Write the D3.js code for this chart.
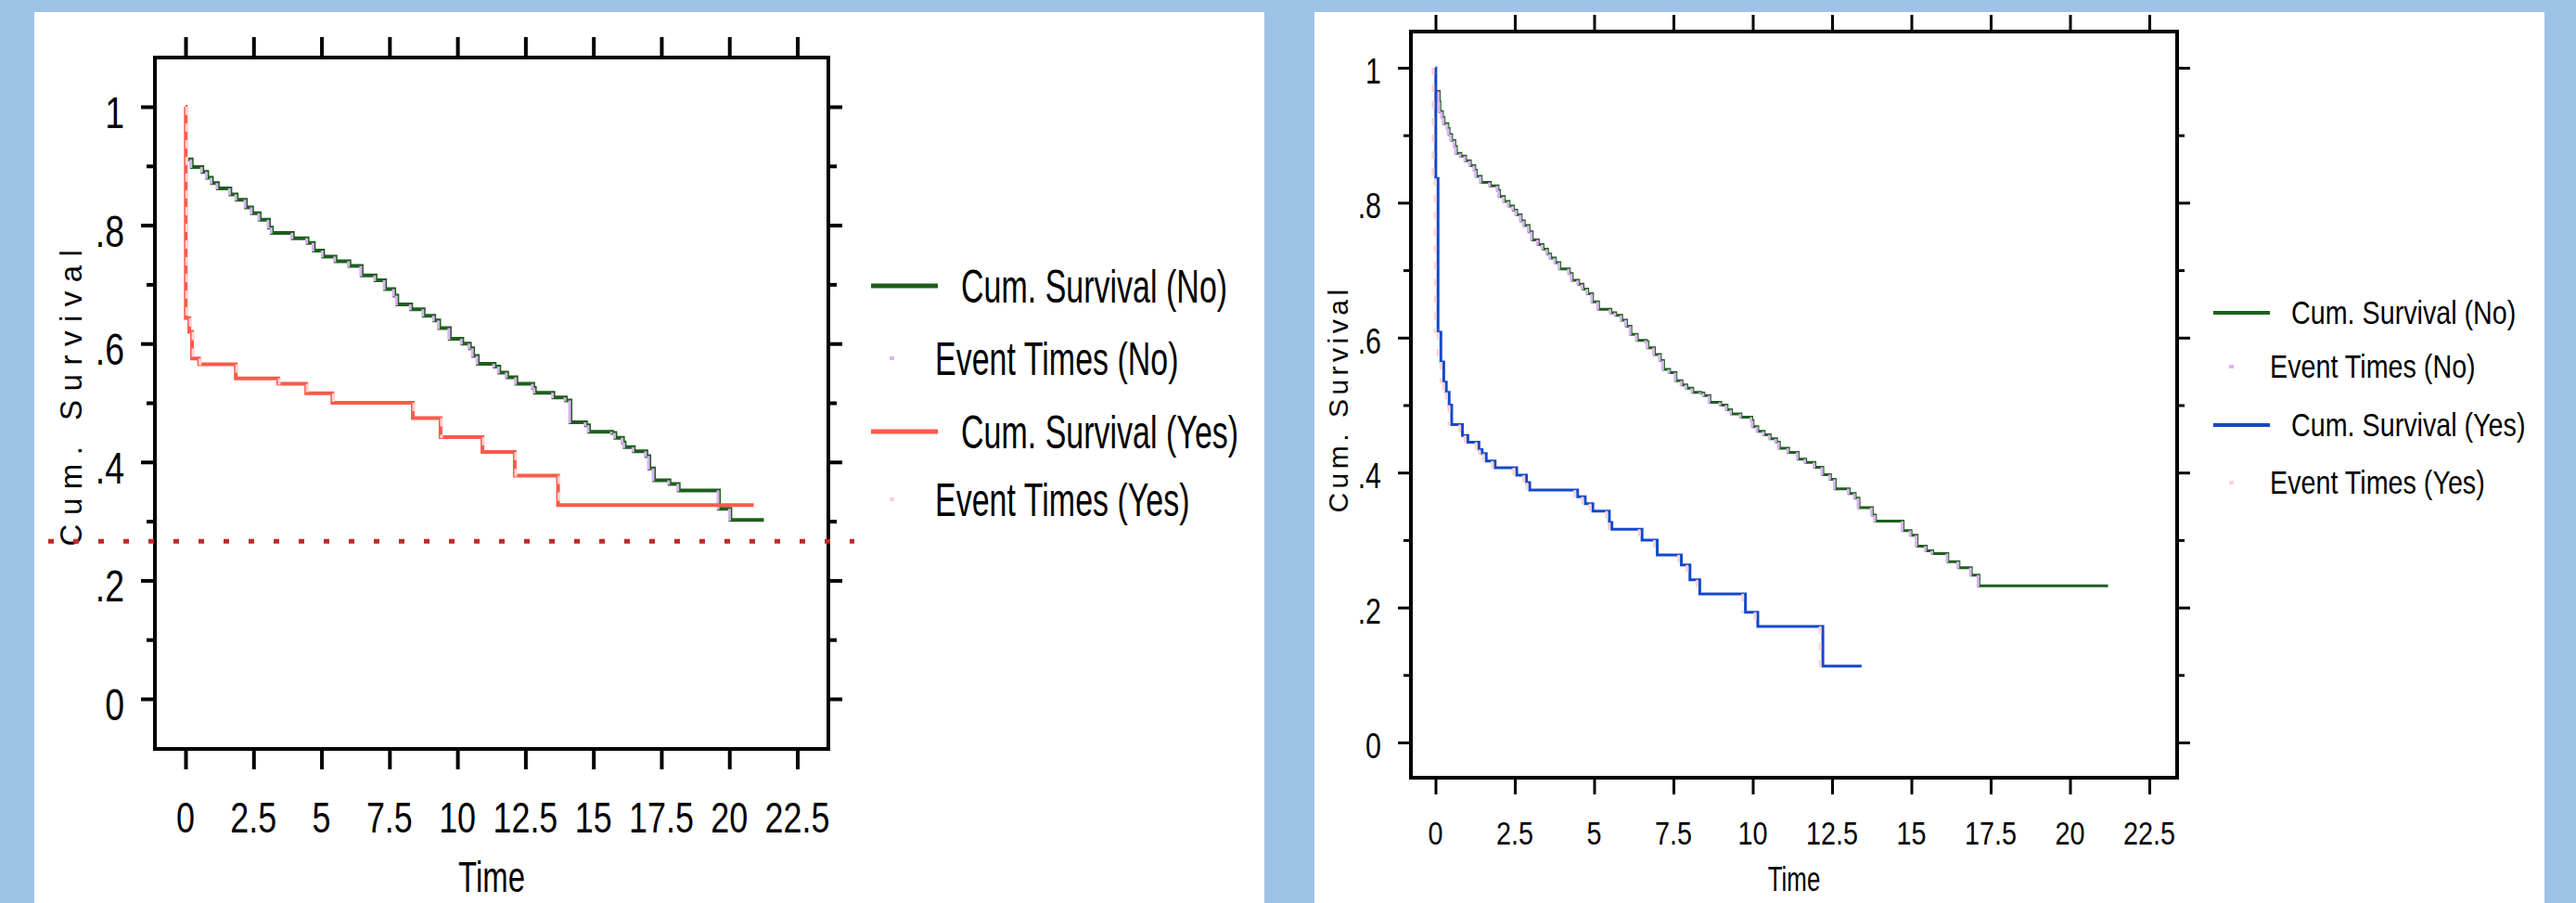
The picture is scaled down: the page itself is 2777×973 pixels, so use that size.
<!DOCTYPE html>
<meta charset="utf-8">
<html>
<head>
  <meta charset="utf-8">
  <title>Cum. Survival</title>
</head>
<style>
  body { margin: 0; background: #9dc3e6; }
  svg text { font-family: "Liberation Sans", Arial, sans-serif; fill: #000; }
</style>
<body>
<svg width="2777" height="973"></svg>
<script src="https://d3js.org/d3.v7.min.js"></script>
<script>

// ---- data ----
var xTicks = [0, 2.5, 5, 7.5, 10, 12.5, 15, 17.5, 20, 22.5];
var yMajor = [0, 0.2, 0.4, 0.6, 0.8, 1];
var yMinor = [0.1, 0.3, 0.5, 0.7, 0.9];
var legendLabels = ["Cum. Survival (No)", "Event Times (No)", "Cum. Survival (Yes)", "Event Times (Yes)"];

// left chart
var leftNoTime = [0.1, 0.23, 0.62, 0.8, 0.97, 1.19, 1.65, 1.88, 2.22, 2.45, 2.73, 3.07, 3.18, 3.95, 4.49, 4.72, 5.06, 5.52, 6.03, 6.48, 6.99, 7.34, 7.68, 7.79, 8.3, 8.76, 9.15, 9.33, 9.72, 10.18, 10.46, 10.58, 10.75, 11.37, 11.54, 11.83, 12.17, 12.79, 12.85, 13.53, 13.99, 14.16, 14.73, 14.84, 15.69, 15.81, 16.09, 16.15, 16.49, 16.95, 17.06, 17.23, 17.8, 18.14, 19.62, 20.04, 21.27];
var leftNoSurv = [0.911, 0.898, 0.89, 0.88, 0.871, 0.862, 0.852, 0.843, 0.83, 0.82, 0.809, 0.796, 0.787, 0.778, 0.77, 0.757, 0.747, 0.739, 0.731, 0.715, 0.707, 0.692, 0.681, 0.666, 0.658, 0.647, 0.639, 0.626, 0.608, 0.6, 0.592, 0.579, 0.566, 0.561, 0.551, 0.543, 0.532, 0.525, 0.517, 0.509, 0.504, 0.467, 0.462, 0.451, 0.449, 0.441, 0.433, 0.425, 0.418, 0.41, 0.389, 0.369, 0.363, 0.352, 0.321, 0.302, 0.302];
var leftYesTime = [0, 0.01, 0.14, 0.24, 0.5, 1.85, 3.41, 4.44, 5.4, 8.36, 9.38, 10.92, 12.11, 13.7, 20.9];
var leftYesSurv = [1.0, 0.643, 0.62, 0.575, 0.565, 0.541, 0.532, 0.516, 0.5, 0.474, 0.442, 0.417, 0.377, 0.327, 0.327];
var leftRefLine = 0.266;

// right chart
var rightNoTime = [0.04, 0.12, 0.14, 0.22, 0.27, 0.39, 0.43, 0.51, 0.61, 0.66, 0.8, 0.95, 1.1, 1.24, 1.29, 1.44, 1.73, 1.97, 2.02, 2.17, 2.32, 2.46, 2.56, 2.7, 2.8, 2.95, 3.05, 3.24, 3.39, 3.53, 3.63, 3.78, 3.92, 4.22, 4.31, 4.51, 4.65, 4.8, 4.95, 5.14, 5.53, 5.68, 5.87, 6.02, 6.16, 6.36, 6.65, 6.7, 6.9, 7.09, 7.19, 7.38, 7.58, 7.77, 7.92, 8.11, 8.36, 8.46, 8.65, 8.99, 9.19, 9.33, 9.63, 9.97, 10.01, 10.16, 10.36, 10.55, 10.75, 10.84, 11.13, 11.43, 11.67, 11.96, 12.21, 12.45, 12.6, 13.04, 13.23, 13.35, 13.77, 13.87, 14.74, 14.99, 15.18, 15.47, 15.67, 16.15, 16.5, 16.89, 17.13, 21.2];
var rightNoSurv = [0.965, 0.949, 0.935, 0.926, 0.917, 0.91, 0.901, 0.892, 0.883, 0.873, 0.869, 0.862, 0.855, 0.848, 0.839, 0.83, 0.825, 0.818, 0.809, 0.802, 0.795, 0.789, 0.782, 0.773, 0.766, 0.757, 0.745, 0.738, 0.731, 0.724, 0.718, 0.711, 0.702, 0.695, 0.685, 0.679, 0.672, 0.665, 0.653, 0.642, 0.637, 0.633, 0.626, 0.617, 0.605, 0.596, 0.594, 0.585, 0.575, 0.566, 0.553, 0.548, 0.536, 0.53, 0.525, 0.519, 0.518, 0.514, 0.504, 0.5, 0.493, 0.487, 0.482, 0.477, 0.468, 0.461, 0.456, 0.45, 0.445, 0.436, 0.43, 0.42, 0.415, 0.408, 0.397, 0.39, 0.376, 0.369, 0.362, 0.348, 0.337, 0.328, 0.314, 0.307, 0.291, 0.284, 0.28, 0.268, 0.259, 0.248, 0.232, 0.232];
var rightYesTime = [0, 0.01, 0.08, 0.17, 0.26, 0.34, 0.43, 0.51, 0.85, 1.02, 1.37, 1.47, 1.6, 1.88, 2.56, 2.87, 2.97, 4.48, 4.72, 4.96, 5.48, 5.56, 6.51, 6.99, 7.75, 8.02, 8.33, 9.77, 10.16, 12.21, 13.43];
var rightYesSurv = [1.0, 0.836, 0.608, 0.564, 0.534, 0.519, 0.5, 0.471, 0.455, 0.445, 0.434, 0.428, 0.417, 0.407, 0.396, 0.385, 0.374, 0.364, 0.354, 0.343, 0.326, 0.316, 0.3, 0.278, 0.263, 0.241, 0.22, 0.193, 0.172, 0.113, 0.113];

// ---- drawing ----
var green = "#1e5e1e", lavender = "#dcb2f6", red = "#fa5a4c", pink = "#ffd3d3", blue = "#1448c8";

var svg = d3.select("svg");
svg.append("rect").attr("width", 2777).attr("height", 973).attr("fill", "#9dc3e6");

function zip(ts, vs) { return ts.map(function(t, i) { return {t: t, v: vs[i]}; }); }

function narrow(g, x, y, s, size, sx, anchor) {
  return g.append("text")
    .attr("transform", "translate(" + x + "," + y + ") scale(" + sx + ",1)")
    .attr("text-anchor", anchor || "start")
    .style("font-size", size + "px")
    .text(s);
}

function yFmt(d) { return d === 0 ? "0" : d === 1 ? "1" : String(d).replace("0.", "."); }

function panel(c) {
  var g = svg.append("g");
  g.append("rect").attr("x", c.px0).attr("y", 13).attr("width", c.px1 - c.px0).attr("height", 960).attr("fill", "#fff");

  var x = d3.scaleLinear().domain([0, 22.5]).range([c.xt0, c.xt1]);
  var y = d3.scaleLinear().domain([0, 1]).range([c.yv0, c.yv1]);

  function tickAxis(axis, tr, vals, size) {
    var a = g.append("g").attr("transform", tr)
      .call(axis.tickValues(vals).tickSize(size).tickFormat(""));
    a.select(".domain").remove();
    a.selectAll("line").attr("stroke", "#000").attr("stroke-width", c.tw);
  }
  tickAxis(d3.axisBottom(x), "translate(0," + c.y1 + ")", xTicks, c.tickX);
  tickAxis(d3.axisTop(x), "translate(0," + c.y0 + ")", xTicks, c.tickX);
  tickAxis(d3.axisLeft(y), "translate(" + c.x0 + ",0)", yMajor, c.tickY);
  tickAxis(d3.axisLeft(y), "translate(" + c.x0 + ",0)", yMinor, c.tickYm);
  tickAxis(d3.axisRight(y), "translate(" + c.x1 + ",0)", yMajor, c.tickY);
  tickAxis(d3.axisRight(y), "translate(" + c.x1 + ",0)", yMinor, c.tickYm);

  g.append("rect").attr("x", c.x0).attr("y", c.y0)
    .attr("width", c.x1 - c.x0).attr("height", c.y1 - c.y0)
    .attr("fill", "none").attr("stroke", "#000").attr("stroke-width", 4);

  xTicks.forEach(function(d) { narrow(g, x(d), c.xLabY, String(d), c.tickFont, c.tickSx, "middle"); });
  yMajor.forEach(function(d) { narrow(g, c.yLabX, y(d) + c.yLabDy, yFmt(d), c.tickFont + 2, c.tickSx, "end"); });
  narrow(g, (c.x0 + c.x1) / 2, c.timeY, "Time", c.tickFont + 1, 0.7, "middle");
  g.append("text")
    .attr("transform", "translate(" + c.titleX + "," + c.titleY + ") rotate(-90)")
    .attr("text-anchor", "middle")
    .style("font-size", c.titleFont + "px")
    .style("letter-spacing", c.titleLs + "px")
    .text("Cum. Survival");

  var line = d3.line().curve(d3.curveStepAfter)
    .x(function(d) { return x(d.t); })
    .y(function(d) { return y(d.v); });

  c.series.forEach(function(s) {
    var pts = zip(s.t, s.v);
    g.append("path").datum(pts).attr("d", line)
      .attr("fill", "none").attr("stroke", s.color).attr("stroke-width", c.lw);
    // event time marks on each drop
    var ev = pts.filter(function(d, i) { return i > 0 && d.v < pts[i - 1].v; })
      .map(function(d) { var i = pts.indexOf(d); return {t: d.t, v0: pts[i - 1].v, v1: d.v}; });
    g.append("g").selectAll("line").data(ev).enter().append("line")
      .attr("x1", function(d) { return x(d.t) + s.markDx; })
      .attr("x2", function(d) { return x(d.t) + s.markDx; })
      .attr("y1", function(d) { return y(d.v0); })
      .attr("y2", function(d) { return y(d.v1) + 1; })
      .attr("stroke", s.mark).attr("stroke-width", s.markW)
      .attr("stroke-dasharray", s.markDash);
  });

  if (c.ref !== undefined) {
    g.append("line").attr("x1", 52).attr("x2", 921)
      .attr("y1", y(c.ref)).attr("y2", y(c.ref))
      .attr("stroke", "#c22a2a").attr("stroke-width", 5).attr("stroke-dasharray", "6,21");
  }

  // legend
  var L = c.legend;
  [0, 2].forEach(function(k, j) {
    var s = c.series[j];
    var ly = L.y[k], my = L.y[k + 1];
    g.append("line").attr("x1", L.lx0).attr("x2", L.lx1).attr("y1", ly).attr("y2", ly)
      .attr("stroke", s.color).attr("stroke-width", L.lw);
    narrow(g, L.tx, ly + L.dy, legendLabels[k], L.font, L.sx);
    g.append("rect").attr("x", L.mx - 2).attr("y", my - 2).attr("width", 5).attr("height", 4).attr("fill", s.mark);
    narrow(g, L.ex, my + L.dy, legendLabels[k + 1], L.font, L.sx);
  });
}

panel({
  px0: 37, px1: 1363,
  x0: 167, x1: 893, y0: 62, y1: 807,
  xt0: 200, xt1: 859.5, yv0: 753, yv1: 115,
  tw: 4, tickX: 22, tickY: 15, tickYm: 9, lw: 4,
  tickFont: 46, tickSx: 0.78, xLabY: 897, yLabX: 134, yLabDy: 23, timeY: 961,
  titleX: 88, titleY: 424, titleFont: 33, titleLs: 9.5,
  ref: leftRefLine,
  series: [
    {t: leftNoTime, v: leftNoSurv, color: green, mark: lavender, markDx: -1, markW: 3, markDash: null},
    {t: leftYesTime, v: leftYesSurv, color: red, mark: pink, markDx: 1, markW: 3, markDash: "9,9"}
  ],
  legend: {lx0: 939, lx1: 1011, tx: 1036, ex: 1008, mx: 961, y: [308, 386, 465, 538], dy: 18, font: 50, sx: 0.68, lw: 5}
});

panel({
  px0: 1417, px1: 2743,
  x0: 1521, x1: 2347, y0: 34, y1: 838,
  xt0: 1547.5, xt1: 2317, yv0: 800, yv1: 73,
  tw: 3, tickX: 18, tickY: 14, tickYm: 8, lw: 3,
  tickFont: 36, tickSx: 0.8, xLabY: 910, yLabX: 1489, yLabDy: 17, timeY: 960,
  titleX: 1453, titleY: 430, titleFont: 30, titleLs: 4.5,
  series: [
    {t: rightNoTime, v: rightNoSurv, color: green, mark: lavender, markDx: -1, markW: 3, markDash: null},
    {t: rightYesTime, v: rightYesSurv, color: blue, mark: pink, markDx: -3, markW: 3, markDash: "8,10"}
  ],
  legend: {lx0: 2386, lx1: 2447, tx: 2470, ex: 2447, mx: 2405, y: [337, 395, 458, 520], dy: 12, font: 35, sx: 0.82, lw: 4}
});

</script>
</body>
</html>
